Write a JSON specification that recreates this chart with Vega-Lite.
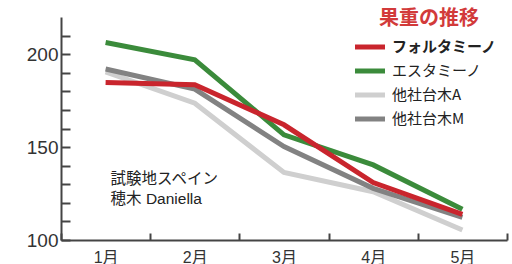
{
  "$schema": "https://vega.github.io/schema/vega-lite/v6.json",
  "width": 446,
  "height": 223,
  "autosize": {"type": "none"},
  "padding": {"left": 61, "top": 17, "right": 5, "bottom": 24},
  "background": "white",
  "config": {
    "view": {"stroke": null},
    "font": "Liberation Sans, 'Noto Sans CJK JP'",
    "axis": {"grid": false, "domainColor": "#444", "domainWidth": 2, "tickColor": "#444", "tickWidth": 2, "labelColor": "#333", "labelOverlap": false}
  },
  "layer": [
    {
      "data": {"values": [
        {"month": "1月", "series": "他社台木A", "weight": 190.5},
        {"month": "2月", "series": "他社台木A", "weight": 173.6},
        {"month": "3月", "series": "他社台木A", "weight": 136.3},
        {"month": "4月", "series": "他社台木A", "weight": 126},
        {"month": "5月", "series": "他社台木A", "weight": 105.4},
        {"month": "1月", "series": "他社台木M", "weight": 192},
        {"month": "2月", "series": "他社台木M", "weight": 181.2},
        {"month": "3月", "series": "他社台木M", "weight": 150.3},
        {"month": "4月", "series": "他社台木M", "weight": 127.8},
        {"month": "5月", "series": "他社台木M", "weight": 112.2},
        {"month": "1月", "series": "エスタミーノ", "weight": 206.3},
        {"month": "2月", "series": "エスタミーノ", "weight": 197},
        {"month": "3月", "series": "エスタミーノ", "weight": 156.6},
        {"month": "4月", "series": "エスタミーノ", "weight": 140.4},
        {"month": "5月", "series": "エスタミーノ", "weight": 116.5},
        {"month": "1月", "series": "フォルタミーノ", "weight": 184.8},
        {"month": "2月", "series": "フォルタミーノ", "weight": 183.5},
        {"month": "3月", "series": "フォルタミーノ", "weight": 162},
        {"month": "4月", "series": "フォルタミーノ", "weight": 130.9},
        {"month": "5月", "series": "フォルタミーノ", "weight": 113.8}
      ]},
      "mark": {"type": "line", "strokeWidth": 5, "strokeJoin": "miter"},
      "encoding": {
        "x": {
          "field": "month", "type": "ordinal", "bandPosition": 0.5,
          "scale": {"type": "band", "paddingInner": 0, "paddingOuter": 0},
          "axis": {"title": null, "labelAngle": 0, "tickBand": "extent", "tickSize": -7, "labelPadding": 16, "labelFontSize": 16}
        },
        "y": {
          "field": "weight", "type": "quantitative",
          "scale": {"domain": [100, 220], "nice": false, "zero": false},
          "axis": {"title": null, "values": [100,110,120,130,140,150,160,170,180,190,200,210], "tickSize": -9, "labelPadding": 12, "labelFontSize": 19, "labelFlush": false, "labelExpr": "datum.value % 50 === 0 ? datum.label : ''"}
        },
        "color": {
          "field": "series", "type": "nominal",
          "scale": {"domain": ["フォルタミーノ", "エスタミーノ", "他社台木A", "他社台木M"], "range": ["#c9252d", "#3b8b3b", "#cfcfcf", "#828282"]},
          "legend": {
            "title": "果重の推移", "orient": "none", "legendX": 299, "legendY": -8,
            "titleColor": "#d23a3a", "titleFontSize": 20, "titleFontWeight": "bold", "titleAnchor": "middle", "titlePadding": 8,
            "symbolType": "M-2,0H2", "symbolSize": 225, "symbolStrokeWidth": 5,
            "labelFontSize": 15, "labelColor": "#222", "rowPadding": 4, "labelOffset": 12,
            "labelFont": "'Noto Sans CJK JP'",
            "labelLimit": 200,
            "labelFontWeight": {"expr": "datum.label === 'フォルタミーノ' ? 'bold' : 'normal'"}
          }
        }
      }
    },
    {
      "data": {"values": [
        {"month": "1月", "y": 130.2, "note": "試験地スペイン"},
        {"month": "1月", "y": 119.4, "note": "穂木 Daniella"}
      ]},
      "mark": {"type": "text", "align": "left", "baseline": "alphabetic", "fontSize": 15.5, "color": "#222", "dx": 5},
      "encoding": {
        "x": {
          "field": "month", "type": "ordinal", "bandPosition": 0.5,
          "axis": {"title": null, "labelAngle": 0, "tickBand": "extent", "tickSize": -7, "labelPadding": 16, "labelFontSize": 16}
        },
        "y": {
          "field": "y", "type": "quantitative",
          "axis": {"title": null, "values": [100,110,120,130,140,150,160,170,180,190,200,210], "tickSize": -9, "labelPadding": 12, "labelFontSize": 19, "labelFlush": false, "labelExpr": "datum.value % 50 === 0 ? datum.label : ''"}
        },
        "text": {"field": "note"}
      }
    }
  ]
}
